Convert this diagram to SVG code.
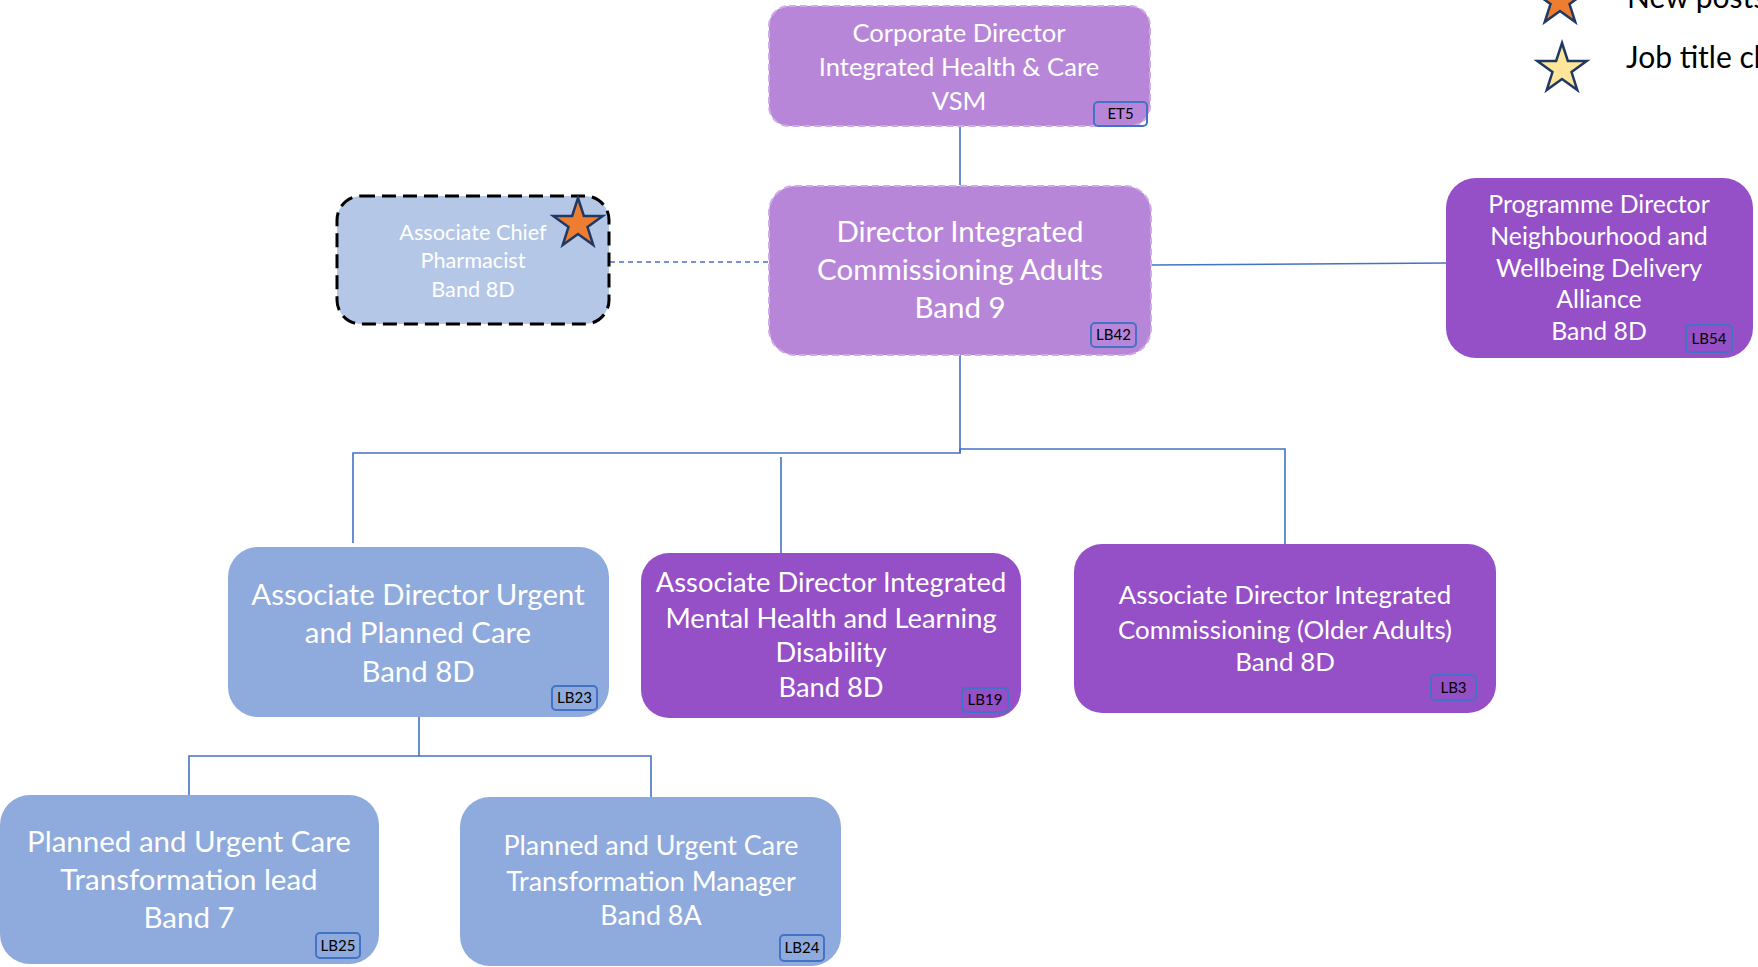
<svg xmlns="http://www.w3.org/2000/svg" xmlns:xlink="http://www.w3.org/1999/xlink" width="1758" height="967" viewBox="0 0 1758 967">
<style>
.t{font-family:Lato,"Open Sans","Liberation Sans",sans-serif;fill:#fff;text-anchor:middle}
.b{font-family:Lato,"Liberation Sans",sans-serif;fill:#000;font-size:15px;text-anchor:middle}
.badge{fill:none;stroke:#4472C4;stroke-width:2}
.lt{fill:#B886D9;stroke:#CDAAE8;stroke-width:2;stroke-dasharray:7 4}
.dk{fill:#954FC7}
.bl{fill:#8FAADC}
.con{fill:none;stroke:#4472C4;stroke-width:1.6}
.leg{font-family:Lato,"Liberation Sans",sans-serif;fill:#000;font-size:30px}
.so{fill:#ED7D31;stroke:#1F3864;stroke-width:2.5;stroke-linejoin:miter}
.sy{fill:#FFE699;stroke:#1F3864;stroke-width:2.5;stroke-linejoin:miter}
</style>
<defs>
<polygon id="star" points="0,-26 5.88,-8.09 24.73,-8.03 9.51,3.09 15.28,21.03 0,10 -15.28,21.03 -9.51,3.09 -24.73,-8.03 -5.88,-8.09"/>
</defs>
<g id="connectors">
<line class="con" x1="960" y1="127" x2="960" y2="185"/>
<line class="con" x1="610" y1="262" x2="768" y2="262" stroke-dasharray="5 4"/>
<line class="con" x1="1152" y1="265" x2="1446" y2="263"/>
<polyline class="con" points="960,355 960,453 353,453 353,543"/>
<line class="con" x1="781" y1="457" x2="781" y2="553"/>
<polyline class="con" points="960,453 960,449 1285,449 1285,544"/>
<polyline class="con" points="419,717 419,756 189,756 189,795"/>
<polyline class="con" points="419,756 651,756 651,797"/>
</g>
<g id="legend">
<use xlink:href="#star" class="so" transform="translate(1560,1)"/>
<text class="leg" x="1627" y="8">New posts</text>
<use xlink:href="#star" class="sy" transform="translate(1562,69)"/>
<text class="leg" x="1626" y="68">Job title ch</text>
</g>
<g id="n-et5">
<rect class="lt" x="769" y="6" width="381" height="120" rx="20"/>
<text class="t" font-size="25.6" x="959" y="42">Corporate Director</text>
<text class="t" font-size="25.6" x="959" y="76">Integrated Health &amp; Care</text>
<text class="t" font-size="25.6" x="959" y="110">VSM</text>
<rect class="badge" x="1094" y="102" width="53" height="24" rx="4"/>
<text class="b" x="1120.5" y="119">ET5</text>
</g>
<g id="n-lb42">
<rect class="lt" x="769" y="186" width="382" height="169" rx="26"/>
<text class="t" font-size="29.5" x="960" y="242">Director Integrated</text>
<text class="t" font-size="29.5" x="960" y="280">Commissioning Adults</text>
<text class="t" font-size="29.5" x="960" y="318">Band 9</text>
<rect class="badge" x="1091" y="323" width="45" height="24" rx="4"/>
<text class="b" x="1113.5" y="340">LB42</text>
</g>
<g id="n-pharm">
<rect x="337" y="196" width="272" height="128" rx="24" fill="#B4C7E7" stroke="#000" stroke-width="3" stroke-dasharray="14 7"/>
<text class="t" font-size="21.7" x="473" y="240">Associate Chief</text>
<text class="t" font-size="21.7" x="473" y="268">Pharmacist</text>
<text class="t" font-size="21.7" x="473" y="297">Band 8D</text>
<use xlink:href="#star" class="so" transform="translate(578,224)"/>
</g>
<g id="n-lb54">
<rect class="dk" x="1446" y="178" width="307" height="180" rx="30"/>
<text class="t" font-size="24.8" x="1599" y="213">Programme Director</text>
<text class="t" font-size="24.8" x="1599" y="245">Neighbourhood and</text>
<text class="t" font-size="24.8" x="1599" y="277">Wellbeing Delivery</text>
<text class="t" font-size="24.8" x="1599" y="308">Alliance</text>
<text class="t" font-size="24.8" x="1599" y="340">Band 8D</text>
<rect class="badge" x="1686" y="325" width="46" height="27" rx="4"/>
<text class="b" x="1709" y="344">LB54</text>
</g>
<g id="n-lb23">
<rect class="bl" x="228" y="547" width="381" height="170" rx="30"/>
<text class="t" font-size="29.4" x="418" y="605">Associate Director Urgent</text>
<text class="t" font-size="29.4" x="418" y="643">and Planned Care</text>
<text class="t" font-size="29.4" x="418" y="682">Band 8D</text>
<rect class="badge" x="552" y="686" width="45" height="24" rx="4"/>
<text class="b" x="574.5" y="703">LB23</text>
</g>
<g id="n-lb19">
<rect class="dk" x="641" y="553" width="380" height="165" rx="28"/>
<text class="t" font-size="27.3" x="831" y="592">Associate Director Integrated</text>
<text class="t" font-size="27.3" x="831" y="628">Mental Health and Learning</text>
<text class="t" font-size="27.3" x="831" y="662">Disability</text>
<text class="t" font-size="27.3" x="831" y="697">Band 8D</text>
<rect class="badge" x="962" y="688" width="46" height="24" rx="4"/>
<text class="b" x="985" y="705">LB19</text>
</g>
<g id="n-lb3">
<rect class="dk" x="1074" y="544" width="422" height="169" rx="28"/>
<text class="t" font-size="25.9" x="1285" y="604">Associate Director Integrated</text>
<text class="t" font-size="25.9" x="1285" y="639">Commissioning (Older Adults)</text>
<text class="t" font-size="25.9" x="1285" y="671">Band 8D</text>
<rect class="badge" x="1431" y="675" width="45" height="25" rx="4"/>
<text class="b" x="1453.5" y="693">LB3</text>
</g>
<g id="n-lb25">
<rect class="bl" x="0" y="795" width="379" height="169" rx="30"/>
<text class="t" font-size="29.5" x="189" y="852">Planned and Urgent Care</text>
<text class="t" font-size="29.5" x="189" y="890">Transformation lead</text>
<text class="t" font-size="29.5" x="189" y="928">Band 7</text>
<rect class="badge" x="316" y="933" width="44" height="25" rx="4"/>
<text class="b" x="338" y="951">LB25</text>
</g>
<g id="n-lb24">
<rect class="bl" x="460" y="797" width="381" height="169" rx="30"/>
<text class="t" font-size="26.9" x="651" y="855">Planned and Urgent Care</text>
<text class="t" font-size="26.9" x="651" y="891">Transformation Manager</text>
<text class="t" font-size="26.9" x="651" y="925">Band 8A</text>
<rect class="badge" x="780" y="935" width="44" height="26" rx="4"/>
<text class="b" x="802" y="953">LB24</text>
</g>
</svg>
